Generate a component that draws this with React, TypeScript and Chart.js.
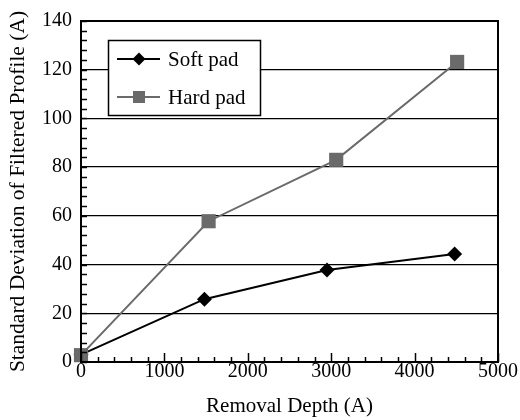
import React, { useEffect, useRef } from "react";
import { Chart, registerables } from "chart.js";

Chart.register(...registerables);

// Removal depth (A) for each measurement
const softDepth = [0, 1480, 2950, 4480];
const hardDepth = [0, 1530, 3060, 4510];
// Standard deviation of filtered profile (A)
const softStd = [3, 25.8, 37.8, 44.3];
const hardStd = [2.8, 57.8, 83, 123.2];

const seriesNames = ["Soft pad", "Hard pad"];
const xTicks = [0, 1000, 2000, 3000, 4000, 5000];
const yTicks = [0, 20, 40, 60, 80, 100, 120, 140];

const FONT = "'Liberation Serif', 'Times New Roman', serif";
const SOFT_COLOR = "#000000";
const HARD_COLOR = "#6a6a6a";

// Frame around the plot, inward tick marks, and an inset legend
const framePlugin = {
  id: "frameTicksLegend",
  afterDatasetsDraw(chart: any) {
    const { ctx, chartArea: a, scales } = chart;
    const xs = scales.x;
    const ys = scales.y;
    ctx.save();
    ctx.strokeStyle = "#000";
    ctx.lineWidth = 1.5;
    // inward ticks on the x axis: major every 1000, minor every 200
    for (let v = xs.min; v <= xs.max + 1e-6; v += 200) {
      const px = Math.round(xs.getPixelForValue(v)) + 0.5;
      const major = Math.abs(v % 1000) < 1e-6;
      const len = major ? 9 : 5;
      ctx.beginPath();
      ctx.moveTo(px, a.bottom);
      ctx.lineTo(px, a.bottom - len);
      ctx.stroke();
    }
    // inward minor ticks on the y axis every 4
    for (let v = ys.min; v <= ys.max + 1e-6; v += 4) {
      const py = Math.round(ys.getPixelForValue(v)) + 0.5;
      ctx.beginPath();
      ctx.moveTo(a.left, py);
      ctx.lineTo(a.left + 6, py);
      ctx.stroke();
    }
    ctx.lineWidth = 2;
    ctx.strokeRect(a.left, a.top, a.right - a.left, a.bottom - a.top);

    // legend box
    const bx = a.left + 27;
    const by = a.top + 19;
    const bw = 152;
    const bh = 75;
    ctx.fillStyle = "#fff";
    ctx.fillRect(bx, by, bw, bh);
    ctx.lineWidth = 1.5;
    ctx.strokeStyle = "#000";
    ctx.strokeRect(bx + 0.5, by + 0.5, bw, bh);
    const sets = chart.data.datasets;
    sets.forEach((ds: any, i: number) => {
      const cy = by + 19 + i * 38;
      ctx.strokeStyle = ds.borderColor;
      ctx.lineWidth = 2;
      ctx.beginPath();
      ctx.moveTo(bx + 9, cy);
      ctx.lineTo(bx + 52, cy);
      ctx.stroke();
      ctx.fillStyle = ds.pointBackgroundColor;
      const mx = bx + 31;
      ctx.beginPath();
      if (ds.pointStyle === "rectRot") {
        const r = 6.5;
        ctx.moveTo(mx - r, cy);
        ctx.lineTo(mx, cy - r);
        ctx.lineTo(mx + r, cy);
        ctx.lineTo(mx, cy + r);
        ctx.closePath();
      } else {
        ctx.rect(mx - 6, cy - 6, 12, 12);
      }
      ctx.fill();
      ctx.fillStyle = "#000";
      ctx.font = `21px ${FONT}`;
      ctx.textBaseline = "middle";
      ctx.textAlign = "left";
      ctx.fillText(ds.label, bx + 60, cy + 1);
    });
    ctx.restore();
  },
};

export default function App() {
  const ref = useRef<HTMLCanvasElement | null>(null);

  useEffect(() => {
    if (!ref.current) return;
    const chart = new Chart(ref.current, {
      type: "line",
      data: {
        datasets: [
          {
            label: seriesNames[0],
            data: softDepth.map((x, i) => ({ x, y: softStd[i] })),
            borderColor: SOFT_COLOR,
            backgroundColor: SOFT_COLOR,
            pointBackgroundColor: SOFT_COLOR,
            pointBorderWidth: 0,
            pointStyle: "rectRot",
            pointRadius: 7.5,
            borderWidth: 2,
            tension: 0,
            clip: false,
            order: 1,
          },
          {
            label: seriesNames[1],
            data: hardDepth.map((x, i) => ({ x, y: hardStd[i] })),
            borderColor: HARD_COLOR,
            backgroundColor: HARD_COLOR,
            pointBackgroundColor: HARD_COLOR,
            pointBorderWidth: 0,
            pointStyle: "rect",
            pointRadius: 10,
            borderWidth: 2,
            tension: 0,
            clip: false,
            order: 0,
          },
        ],
      },
      options: {
        responsive: false,
        animation: false,
        layout: { padding: { left: 0, top: 20, right: 22, bottom: 0 } },
        plugins: {
          legend: { display: false },
          tooltip: { enabled: false },
        },
        scales: {
          x: {
            type: "linear",
            min: 0,
            max: 5000,
            afterFit: (s: any) => {
              s.height = 58;
            },
            afterBuildTicks: (s: any) => {
              s.ticks = xTicks.map((v) => ({ value: v }));
            },
            ticks: {
              color: "#000",
              font: { family: FONT, size: 20 },
              padding: -2,
              maxRotation: 0,
              callback: (v: any) => String(v),
            },
            grid: { display: false, drawTicks: false },
            border: { display: false },
            title: {
              display: true,
              text: "Removal Depth (A)",
              color: "#000",
              font: { family: FONT, size: 21 },
              padding: { top: 0, bottom: 1 },
            },
          },
          y: {
            type: "linear",
            min: 0,
            max: 140,
            afterFit: (s: any) => {
              s.width = 81;
            },
            afterBuildTicks: (s: any) => {
              s.ticks = yTicks.map((v) => ({ value: v }));
            },
            ticks: {
              color: "#000",
              font: { family: FONT, size: 20 },
              padding: 9,
              callback: (v: any) => String(v),
            },
            grid: { color: "#000", lineWidth: 1.3, drawTicks: false },
            border: { display: false },
            title: {
              display: true,
              text: "Standard Deviation of Filtered Profile (A)",
              color: "#000",
              font: { family: FONT, size: 21.5 },
              padding: { top: 5, bottom: 0 },
            },
          },
        },
      },
      plugins: [framePlugin],
    });
    return () => chart.destroy();
  }, []);

  return (
    <div style={{ position: "fixed", left: 0, top: 0, width: 520, height: 420, background: "#fff" }}>
      <canvas ref={ref} width={520} height={420} style={{ display: "block" }} />
    </div>
  );
}
